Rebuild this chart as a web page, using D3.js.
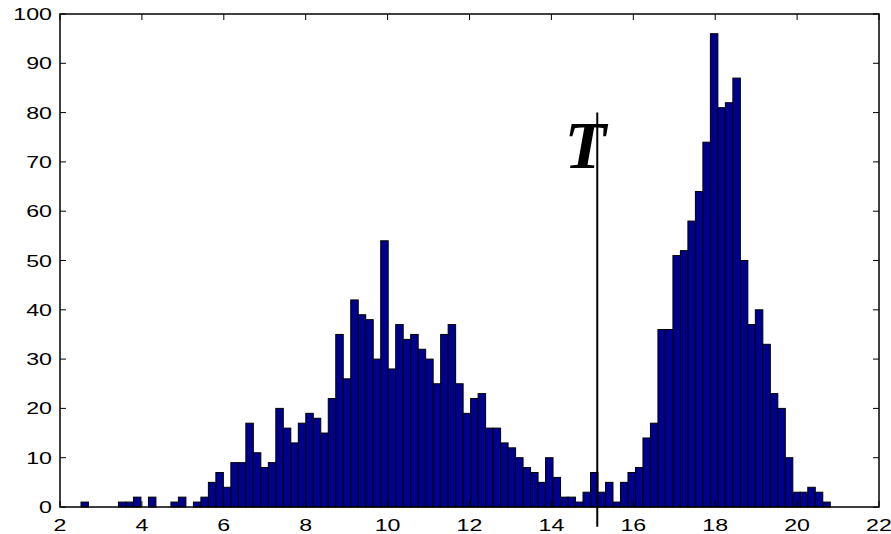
<!DOCTYPE html>
<html>
<head>
<meta charset="utf-8">
<script src="https://cdn.jsdelivr.net/npm/d3@7"></script>
<style>
  html, body { margin: 0; padding: 0; background: #fff; }
  svg { display: block; }
</style>
</head>
<body>
<div id="chart"></div>
<script>
// histogram counts, 100 bins (hist(x,100))
var counts = [
  1, 0, 0, 0, 0, 1, 1, 2, 0, 2,
  0, 0, 1, 2, 0, 1, 2, 5, 7, 4,
  9, 9, 17, 11, 8, 9, 20, 16, 13, 17,
  19, 18, 15, 22, 35, 26, 42, 39, 38, 30,
  54, 28, 37, 34, 35, 32, 30, 25, 35, 37,
  25, 19, 22, 23, 16, 16, 13, 12, 10, 8,
  7, 5, 10, 6, 2, 2, 1, 3, 7, 3,
  5, 1, 5, 7, 8, 14, 17, 36, 36, 51,
  52, 58, 64, 74, 96, 81, 82, 87, 50, 37,
  40, 33, 23, 20, 10, 3, 3, 4, 3, 1
];
var histMin = 2.513;
var histMax = 20.81;
var xTicks = [2, 4, 6, 8, 10, 12, 14, 16, 18, 20, 22];
var yTicks = [0, 10, 20, 30, 40, 50, 60, 70, 80, 90, 100];
var threshold = [15.12];
var thresholdSpan = [-4, 80];
var thresholdLabel = ["T"];

var w = 891, h = 534;
// plot box (window.top is taken, so own names)
var pL = 60, pR = 879, pT = 14, pB = 507;

var svg = d3.select("#chart").append("svg")
  .attr("width", w)
  .attr("height", h);

var x = d3.scaleLinear().domain([2, 22]).range([pL, pR]);
var y = d3.scaleLinear().domain([0, 100]).range([pB, pT]);

var binW = (histMax - histMin) / counts.length;

// bars
svg.append("g").selectAll("rect")
  .data(counts)
  .enter().append("rect")
  .attr("x", function(d, i) { return x(histMin + i * binW); })
  .attr("width", function(d, i) { return x(histMin + (i + 1) * binW) - x(histMin + i * binW); })
  .attr("y", function(d) { return y(d); })
  .attr("height", function(d) { return y(0) - y(d); })
  .attr("fill", "#00008f")
  .attr("stroke", "#000")
  .attr("stroke-width", 1)
  .style("display", function(d) { return d > 0 ? null : "none"; });

// box
svg.append("rect")
  .attr("x", pL)
  .attr("y", pT)
  .attr("width", pR - pL)
  .attr("height", pB - pT)
  .attr("fill", "none")
  .attr("stroke", "#000")
  .attr("stroke-width", 1.5);

// ticks, pointing inwards on all four sides
var tl = 6;
svg.append("g").selectAll("line")
  .data(xTicks)
  .enter().append("line")
  .attr("x1", function(d) { return x(d); })
  .attr("x2", function(d) { return x(d); })
  .attr("y1", pB)
  .attr("y2", pB - tl)
  .attr("stroke", "#000");
svg.append("g").selectAll("line")
  .data(xTicks)
  .enter().append("line")
  .attr("x1", function(d) { return x(d); })
  .attr("x2", function(d) { return x(d); })
  .attr("y1", pT)
  .attr("y2", pT + tl)
  .attr("stroke", "#000");
svg.append("g").selectAll("line")
  .data(yTicks)
  .enter().append("line")
  .attr("x1", pL)
  .attr("x2", pL + tl)
  .attr("y1", function(d) { return y(d); })
  .attr("y2", function(d) { return y(d); })
  .attr("stroke", "#000");
svg.append("g").selectAll("line")
  .data(yTicks)
  .enter().append("line")
  .attr("x1", pR)
  .attr("x2", pR - tl)
  .attr("y1", function(d) { return y(d); })
  .attr("y2", function(d) { return y(d); })
  .attr("stroke", "#000");

// tick labels (the picture is stretched sideways, so are the labels)
var sx = 1.45;
svg.append("g").selectAll("text")
  .data(yTicks)
  .enter().append("text")
  .attr("transform", function(d) { return "translate(52," + (y(d) + 6) + ") scale(" + sx + ",1)"; })
  .attr("text-anchor", "end")
  .attr("font-family", "Liberation Sans, Arial, sans-serif")
  .attr("font-size", 16)
  .attr("fill", "#000")
  .text(function(d) { return d; });

svg.append("g").selectAll("text")
  .data(xTicks)
  .enter().append("text")
  .attr("transform", function(d) { return "translate(" + x(d) + ",531) scale(" + sx + ",1)"; })
  .attr("text-anchor", "middle")
  .attr("font-family", "Liberation Sans, Arial, sans-serif")
  .attr("font-size", 16)
  .attr("fill", "#000")
  .text(function(d) { return d; });

// threshold line T
svg.append("line")
  .attr("x1", x(threshold[0]))
  .attr("x2", x(threshold[0]))
  .attr("y1", y(thresholdSpan[0]))
  .attr("y2", y(thresholdSpan[1]))
  .attr("stroke", "#000")
  .attr("stroke-width", 2);

svg.append("text")
  .attr("x", x(threshold[0]) - 12)
  .attr("y", 168)
  .attr("text-anchor", "middle")
  .attr("font-family", "Liberation Serif, Times New Roman, serif")
  .attr("font-style", "italic")
  .attr("font-weight", "bold")
  .attr("font-size", 68)
  .attr("fill", "#000")
  .text(thresholdLabel[0]);
</script>
</body>
</html>
